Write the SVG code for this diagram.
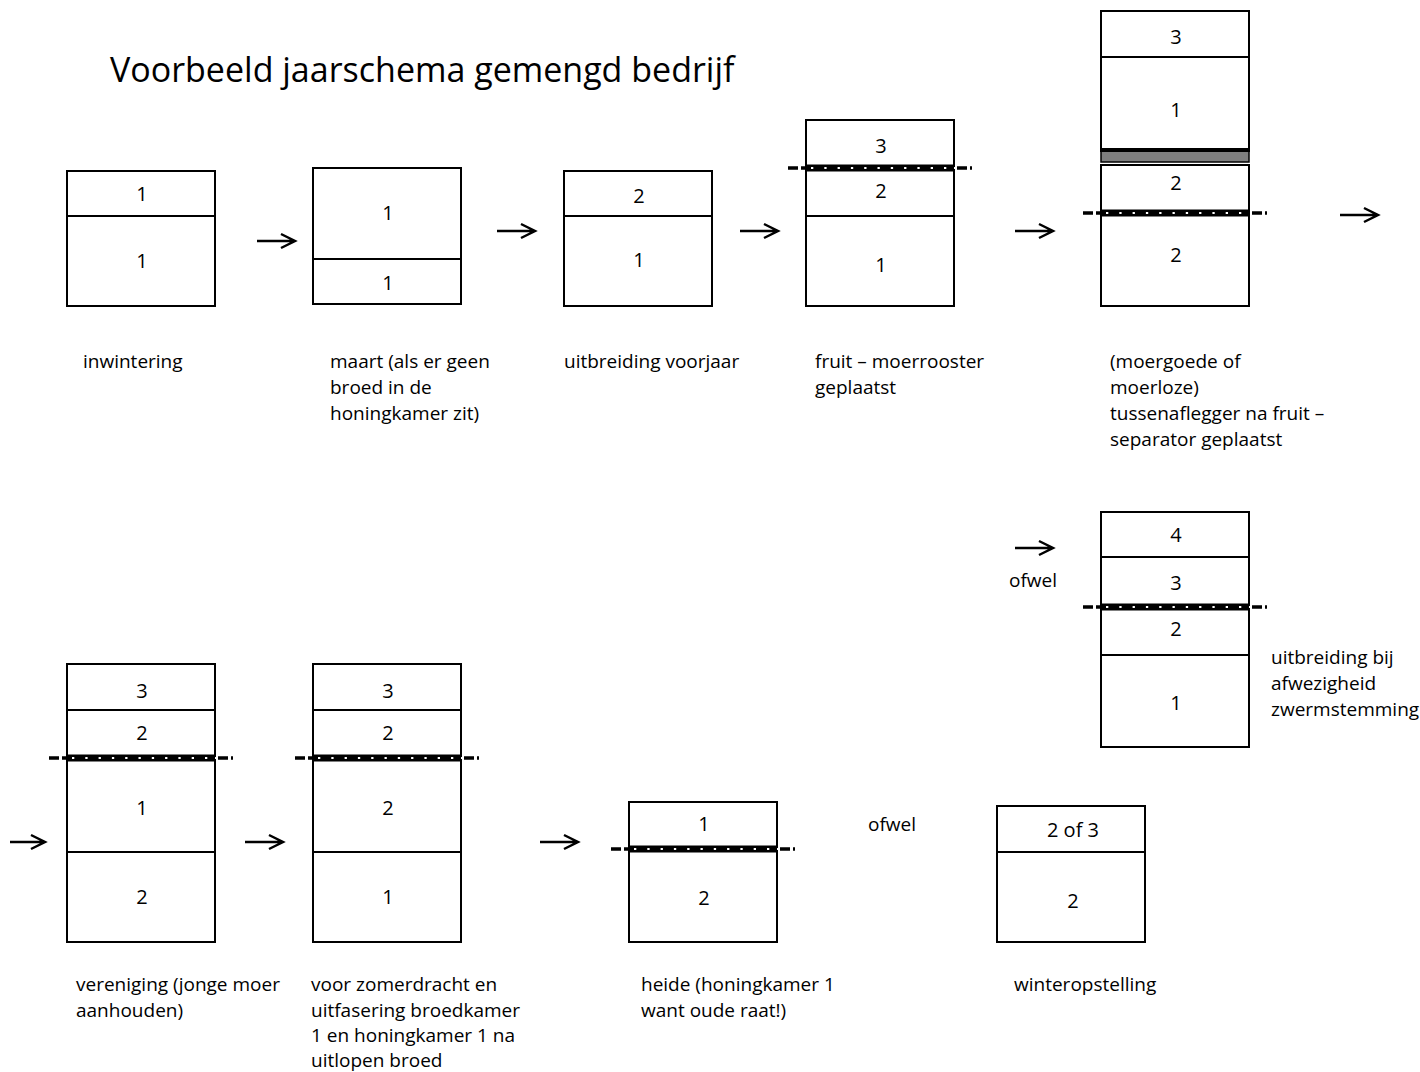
<svg xmlns="http://www.w3.org/2000/svg" xmlns:xlink="http://www.w3.org/1999/xlink" width="1420" height="1072" viewBox="0 0 1420 1072">
<style>
.b{fill:#fff;stroke:#000;stroke-width:2}
.d{stroke:#000;stroke-width:2}
.n{font-family:"Open Sans","Noto Sans",sans-serif;font-size:20px;fill:#000;text-anchor:middle}
.l{font-family:"Open Sans","Noto Sans",sans-serif;font-size:19px;fill:#000}
.t{font-family:"Open Sans","Noto Sans",sans-serif;font-size:34px;fill:#000}
.a{fill:none;stroke:#000;stroke-width:2.5}
</style>
<defs>
<g id="qx">
<rect x="0" y="-3.5" width="148" height="7" fill="#000"/>
<line x1="5" y1="0" x2="146" y2="0" stroke="#fff" stroke-width="2" stroke-dasharray="2.3 11"/>
<path d="M-18 0h10M-5 0h5M151 0h10M164 0h2" stroke="#000" stroke-width="3.5" fill="none"/>
</g>
</defs>
<rect width="1420" height="1072" fill="#fff"/>
<text class="t" x="110" y="82">Voorbeeld jaarschema gemengd bedrijf</text>

<g id="inwintering">
<rect class="b" x="67" y="171" width="148" height="135"/>
<line class="d" x1="67" y1="216" x2="215" y2="216"/>
<text class="n" x="142" y="201">1</text>
<text class="n" x="142" y="268">1</text>
<text class="l" x="83" y="368">inwintering</text>
</g>

<g id="maart">
<rect class="b" x="313" y="168" width="148" height="136"/>
<line class="d" x1="313" y1="259" x2="461" y2="259"/>
<text class="n" x="388" y="220">1</text>
<text class="n" x="388" y="290">1</text>
<text class="l" x="330" y="368"><tspan x="330">maart (als er geen</tspan><tspan x="330" dy="26">broed in de</tspan><tspan x="330" dy="26">honingkamer zit)</tspan></text>
</g>

<g id="voorjaar">
<rect class="b" x="564" y="171" width="148" height="135"/>
<line class="d" x1="564" y1="216" x2="712" y2="216"/>
<text class="n" x="639" y="203">2</text>
<text class="n" x="639" y="267">1</text>
<text class="l" x="564" y="368">uitbreiding voorjaar</text>
</g>

<g id="fruit">
<rect class="b" x="806" y="120" width="148" height="46"/>
<rect class="b" x="806" y="170" width="148" height="136"/>
<line class="d" x1="806" y1="216" x2="954" y2="216"/>
<use xlink:href="#qx" href="#qx" transform="translate(806 168)"/>
<text class="n" x="881" y="153">3</text>
<text class="n" x="881" y="198">2</text>
<text class="n" x="881" y="272">1</text>
<text class="l" x="815" y="368"><tspan x="815">fruit – moerrooster</tspan><tspan x="815" dy="26">geplaatst</tspan></text>
</g>

<g id="tussenaflegger">
<rect class="b" x="1101" y="11" width="148" height="139"/>
<line class="d" x1="1101" y1="57" x2="1249" y2="57"/>
<rect x="1101" y="151" width="148" height="11" fill="#7f7f7f" stroke="#000" stroke-width="1.5"/>
<line x1="1100" y1="150" x2="1250" y2="150" stroke="#000" stroke-width="4"/>
<rect class="b" x="1101" y="165" width="148" height="141"/>
<use xlink:href="#qx" href="#qx" transform="translate(1101 213)"/>
<text class="n" x="1176" y="44">3</text>
<text class="n" x="1176" y="117">1</text>
<text class="n" x="1176" y="190">2</text>
<text class="n" x="1176" y="262">2</text>
<text class="l" x="1110" y="368"><tspan x="1110">(moergoede of</tspan><tspan x="1110" dy="26">moerloze)</tspan><tspan x="1110" dy="26">tussenaflegger na fruit –</tspan><tspan x="1110" dy="26">separator geplaatst</tspan></text>
</g>

<g id="uitbreiding-zwerm">
<rect class="b" x="1101" y="512" width="148" height="93"/>
<line class="d" x1="1101" y1="557" x2="1249" y2="557"/>
<rect class="b" x="1101" y="609" width="148" height="138"/>
<line class="d" x1="1101" y1="655" x2="1249" y2="655"/>
<use xlink:href="#qx" href="#qx" transform="translate(1101 607)"/>
<text class="n" x="1176" y="542">4</text>
<text class="n" x="1176" y="590">3</text>
<text class="n" x="1176" y="636">2</text>
<text class="n" x="1176" y="710">1</text>
<text class="l" x="1009" y="587">ofwel</text>
<text class="l" x="1271" y="664"><tspan x="1271">uitbreiding bij</tspan><tspan x="1271" dy="26">afwezigheid</tspan><tspan x="1271" dy="26">zwermstemming</tspan></text>
</g>

<g id="vereniging">
<rect class="b" x="67" y="664" width="148" height="92"/>
<line class="d" x1="67" y1="710" x2="215" y2="710"/>
<rect class="b" x="67" y="760" width="148" height="182"/>
<line class="d" x1="67" y1="852" x2="215" y2="852"/>
<use xlink:href="#qx" href="#qx" transform="translate(67 758)"/>
<text class="n" x="142" y="698">3</text>
<text class="n" x="142" y="740">2</text>
<text class="n" x="142" y="815">1</text>
<text class="n" x="142" y="904">2</text>
<text class="l" x="76" y="991"><tspan x="76">vereniging (jonge moer</tspan><tspan x="76" dy="25.5">aanhouden)</tspan></text>
</g>

<g id="zomerdracht">
<rect class="b" x="313" y="664" width="148" height="92"/>
<line class="d" x1="313" y1="710" x2="461" y2="710"/>
<rect class="b" x="313" y="760" width="148" height="182"/>
<line class="d" x1="313" y1="852" x2="461" y2="852"/>
<use xlink:href="#qx" href="#qx" transform="translate(313 758)"/>
<text class="n" x="388" y="698">3</text>
<text class="n" x="388" y="740">2</text>
<text class="n" x="388" y="815">2</text>
<text class="n" x="388" y="904">1</text>
<text class="l" x="311" y="991"><tspan x="311">voor zomerdracht en</tspan><tspan x="311" dy="25.5">uitfasering broedkamer</tspan><tspan x="311" dy="25.5">1 en honingkamer 1 na</tspan><tspan x="311" dy="25">uitlopen broed</tspan></text>
</g>

<g id="heide">
<rect class="b" x="629" y="802" width="148" height="45"/>
<rect class="b" x="629" y="851" width="148" height="91"/>
<use xlink:href="#qx" href="#qx" transform="translate(629 849)"/>
<text class="n" x="704" y="831">1</text>
<text class="n" x="704" y="905">2</text>
<text class="l" x="641" y="991"><tspan x="641">heide (honingkamer 1</tspan><tspan x="641" dy="25.5">want oude raat!)</tspan></text>
<text class="l" x="868" y="831">ofwel</text>
</g>

<g id="winteropstelling">
<rect class="b" x="997" y="806" width="148" height="136"/>
<line class="d" x1="997" y1="852" x2="1145" y2="852"/>
<text class="n" x="1073" y="837">2 of 3</text>
<text class="n" x="1073" y="908">2</text>
<text class="l" x="1014" y="991">winteropstelling</text>
</g>

<g id="connectors">
<path class="a" d="M257 241H295M281 234L295 241L281 248"/>
<path class="a" d="M497 231H535M521 224L535 231L521 238"/>
<path class="a" d="M740 231H778M764 224L778 231L764 238"/>
<path class="a" d="M1015 231H1053M1039 224L1053 231L1039 238"/>
<path class="a" d="M1340 215H1378M1364 208L1378 215L1364 222"/>
<path class="a" d="M1015 548H1053M1039 541L1053 548L1039 555"/>
<path class="a" d="M10 842H45M31 835L45 842L31 849"/>
<path class="a" d="M245 842H283M269 835L283 842L269 849"/>
<path class="a" d="M540 842H578M564 835L578 842L564 849"/>
</g>
</svg>
